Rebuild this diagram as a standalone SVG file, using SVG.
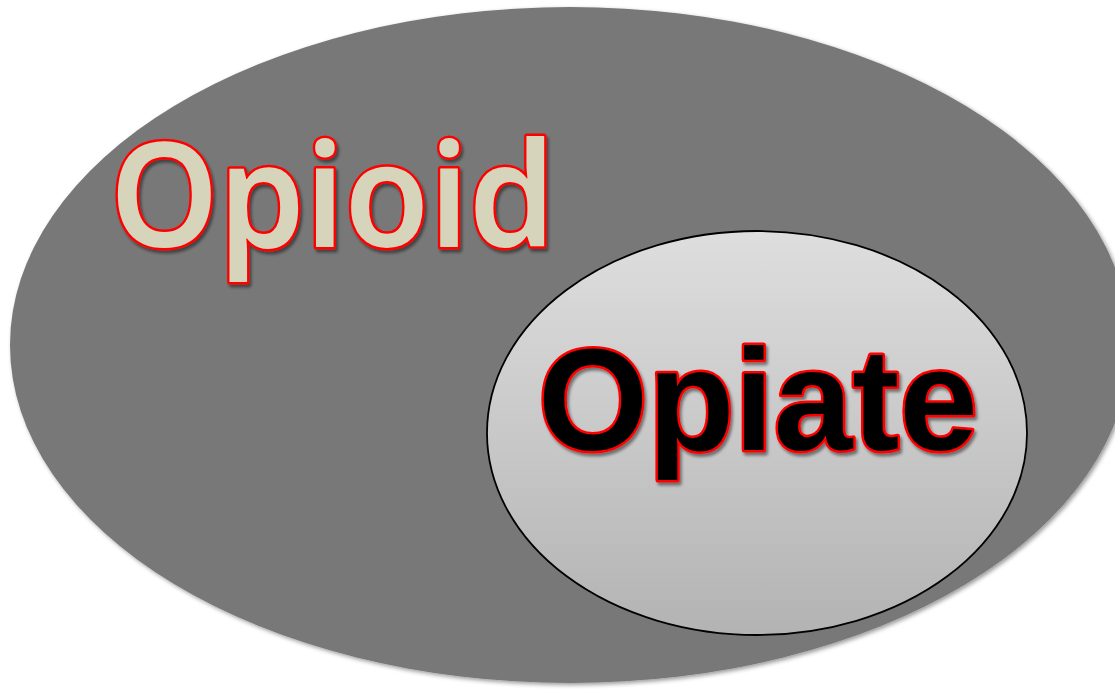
<svg xmlns="http://www.w3.org/2000/svg" width="1115" height="689" viewBox="0 0 1115 689">
<defs>
<linearGradient id="g" x1="0" y1="0" x2="0" y2="1">
<stop offset="0" stop-color="#dedede"/>
<stop offset="1" stop-color="#b3b3b3"/>
</linearGradient>
<filter id="sh" x="-10%" y="-10%" width="120%" height="120%">
<feDropShadow dx="2" dy="2" stdDeviation="2" flood-color="#000" flood-opacity="0.4"/>
</filter>
<filter id="tsh" x="-10%" y="-10%" width="120%" height="130%">
<feDropShadow dx="2" dy="3" stdDeviation="1.5" flood-color="#000" flood-opacity="0.45"/>
</filter>
</defs>
<style>
.big{font-size:145px;stroke:#ff0000;stroke-width:5;stroke-linejoin:round;paint-order:stroke;filter:url(#tsh)}
.op{font-family:"Noto Sans","Open Sans",sans-serif;font-weight:600}
.oa{font-family:"Liberation Sans",Arial,sans-serif;font-weight:700}
</style>
<rect width="1115" height="689" fill="#fff"/>
<g id="opioid">
<ellipse cx="570" cy="345" rx="560" ry="338" fill="#787878" filter="url(#sh)"/>
<text class="big op" x="110" y="247" textLength="445" lengthAdjust="spacingAndGlyphs" fill="#d6d5bb">Opioid</text>
</g>
<g id="opiate">
<ellipse cx="757" cy="433" rx="270" ry="202" fill="url(#g)" stroke="#000" stroke-width="1.8"/>
<text class="big oa" x="538" y="450" textLength="440" lengthAdjust="spacingAndGlyphs" fill="#000">Opiate</text>
</g>
<g id="connectors"/>
</svg>
